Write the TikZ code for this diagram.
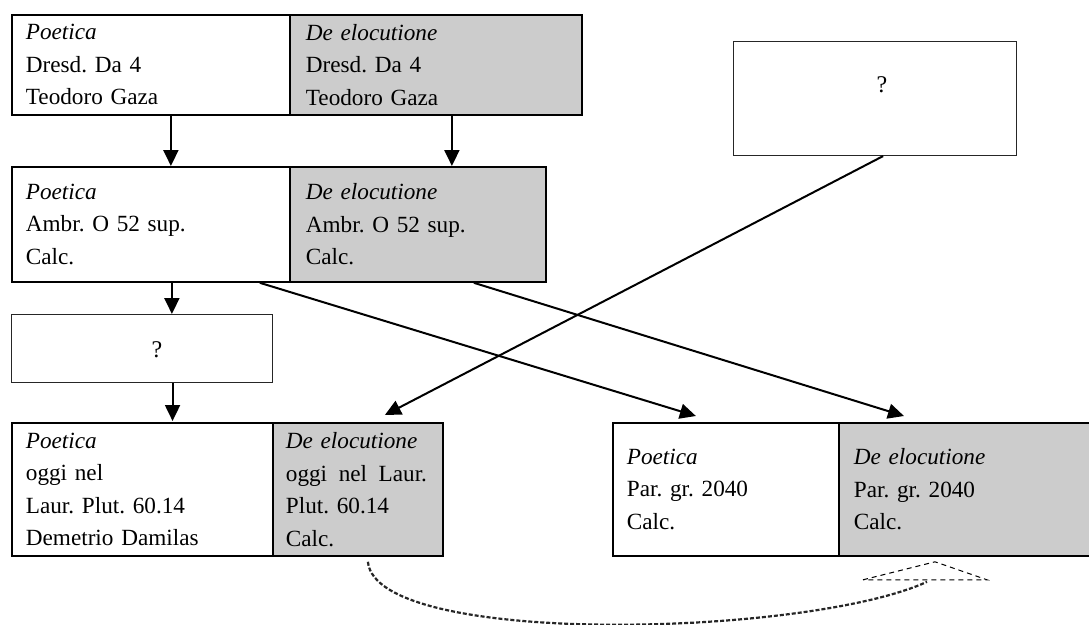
\documentclass[tikz,border=0pt]{standalone}
\usepackage{fontspec}
\setmainfont{Liberation Serif}
\usetikzlibrary{arrows.meta,calc}
\definecolor{cellgray}{RGB}{204,204,204}
\frenchspacing
\begin{document}
\begin{tikzpicture}[x=1pt,y=-1pt,
  cell/.style={draw=black,line width=1.8pt,anchor=north west,inner ysep=0pt,
    align=left,font=\fontsize{23.2}{32.5}\selectfont},
  grey/.style={fill=cellgray},
  qbox/.style={draw=black!85,line width=1.1pt,anchor=north west,inner sep=0pt},
  qtext/.style={font=\fontsize{24}{26}\selectfont,inner sep=0pt},
  arr/.style={line width=2pt,-{Triangle[length=16pt,width=15pt]}},
  dashcurve/.style={line width=2.2pt,dash pattern=on 4pt off 2pt,draw=black!85},
  dashtri/.style={line width=1pt,dash pattern=on 5pt off 4pt}]
\clip (0,0) rectangle (1089,624);
\fill[white] (0,0) rectangle (1089,624);
% row 1
\node[cell,fill=white,text width=250pt,minimum height=100pt,inner xsep=14pt] (P1) at (11,14)
  {\textit{Poetica}\\Dresd. Da 4\\Teodoro Gaza};
\node[cell,grey,text width=260pt,minimum height=100pt,inner xsep=16pt] (D1) at (289,14)
  {\textit{De elocutione}\\Dresd. Da 4\\Teodoro Gaza};
% row 2
\node[cell,fill=white,text width=250pt,minimum height=115pt,inner xsep=14pt] (P2) at (11,166)
  {\textit{Poetica}\\Ambr. O 52 sup.\\Calc.};
\node[cell,grey,text width=224pt,minimum height=115pt,inner xsep=16pt] (D2) at (289,166)
  {\textit{De elocutione}\\Ambr. O 52 sup.\\Calc.};
% lost intermediate
\node[qbox,minimum width=261pt,minimum height=68pt] (Q1) at (11,314) {};
\node[qtext] (Q1t) at (157,350) {?};
% right lost source
\node[qbox,minimum width=283pt,minimum height=114pt] (R) at (733,41) {};
\node[qtext] (Rt) at (882,85) {?};
% row 4 left
\node[cell,fill=white,text width=233pt,minimum height=133pt,inner xsep=14pt] (P3) at (11,422)
  {\textit{Poetica}\\oggi nel\\Laur. Plut. 60.14\\Demetrio Damilas};
\node[cell,grey,text width=144pt,minimum height=133pt,inner xsep=13pt] (D3) at (272,422)
  {\textit{De elocutione}\\oggi\hspace{0.5em}nel\hspace{0.5em}Laur.\\Plut. 60.14\\Calc.};
% row 4 right
\node[cell,fill=white,text width=198pt,minimum height=133pt,inner xsep=14pt] (P4) at (612,422)
  {\textit{Poetica}\\Par. gr. 2040\\Calc.};
\node[cell,grey,text width=240pt,minimum height=133pt,inner xsep=15pt] (D4) at (838,422)
  {\textit{De elocutione}\\Par. gr. 2040\\Calc.};
% connectors
\draw[arr] ([xshift=20pt]P1.south) -- ([xshift=20pt]P1.south |- P2.north);
\draw[arr] ([xshift=16pt]D1.south) -- ([xshift=16pt]D1.south |- D2.north);
\draw[arr] ([xshift=21pt]P2.south) -- ([xshift=21pt]P2.south |- Q1.north);
\draw[arr] ([xshift=30.5pt]Q1.south) -- ([xshift=30.5pt,yshift=1pt]Q1.south |- P3.north);
\draw[arr] ([xshift=8pt]R.south) -- ([xshift=27pt,yshift=7pt]D3.north);
\draw[arr] ([xshift=-31pt]P2.south east) -- ([xshift=-30pt,yshift=6pt]P4.north);
\draw[arr] ([xshift=56pt]D2.south) -- ([xshift=66pt,yshift=6pt]D4.north west);
% dashed relation
\coordinate (cs) at ([xshift=10pt,yshift=-5pt]D3.south);
\coordinate (ce) at ([xshift=89pt,yshift=-25pt]D4.south west);
\coordinate (tl) at ([xshift=25pt,yshift=-23pt]D4.south west);
\coordinate (ta) at ([xshift=97pt,yshift=-5pt]D4.south west);
\coordinate (tr) at ([xshift=149pt,yshift=-23pt]D4.south west);
\draw[dashcurve] (cs) .. controls ($(cs)+(8,86)$) and ($(ce)+(-120,55)$) .. (ce);
\draw[dashtri] (tl) -- (ta) -- (tr) -- cycle;
\end{tikzpicture}
\end{document}
